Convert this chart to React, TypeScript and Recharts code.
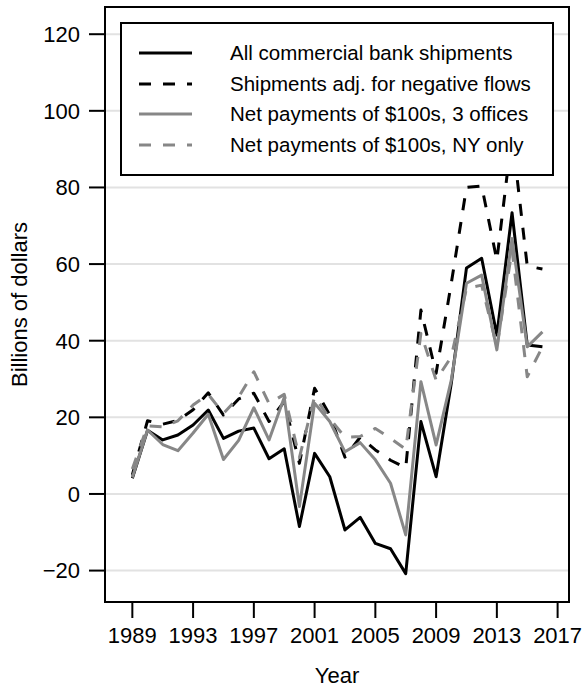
import React from "react";
import {
  CartesianGrid,
  Legend,
  Line,
  LineChart,
  ReferenceArea,
  XAxis,
  YAxis,
} from "recharts";

const YEARS = [
  1989, 1990, 1991, 1992, 1993, 1994, 1995, 1996, 1997, 1998, 1999, 2000, 2001, 2002,
  2003, 2004, 2005, 2006, 2007, 2008, 2009, 2010, 2011, 2012, 2013, 2014, 2015, 2016,
];

const ALL_SHIPMENTS = [
  4.1, 16.6, 14.1, 15.4, 18.0, 21.9, 14.5, 16.4, 17.2, 9.2, 11.8, -8.5, 10.6, 4.5,
  -9.4, -6.1, -12.9, -14.3, -20.8, 18.9, 4.5, 28.9, 59.0, 61.5, 41.5, 73.4, 38.9, 38.4,
];

const ADJ_SHIPMENTS = [
  5.0, 19.1, 18.2, 19.2, 22.0, 26.4, 20.6, 24.8, 26.3, 18.9, 24.1, 8.0, 27.6, 20.6,
  9.6, 14.8, 11.5, 8.8, 6.8, 48.0, 31.5, 55.0, 80.0, 80.4, 61.0, 94.0, 59.5, 58.7,
];

const NET_3_OFFICES = [
  4.3, 16.7, 12.9, 11.3, 15.9, 20.8, 9.0, 14.0, 22.5, 14.1, 25.2, -3.3, 23.7, 18.9,
  11.0, 13.4, 8.9, 2.8, -10.7, 29.3, 12.8, 29.7, 55.0, 57.1, 37.6, 66.7, 38.4, 42.3,
];

const NET_NY_ONLY = [
  6.5, 17.8, 17.5, 19.1, 23.2, 26.0, 21.0, 25.3, 31.9, 23.6, 26.0, 9.5, 25.4, 19.7,
  14.8, 15.0, 17.1, 14.5, 11.7, 41.9, 29.7, 35.8, 53.7, 54.5, 38.4, 63.7, 30.6, 38.4,
];

const X_TICKS = [1989, 1993, 1997, 2001, 2005, 2009, 2013, 2017];
const Y_TICKS = [-20, 0, 20, 40, 60, 80, 100, 120];

const X_DOMAIN: [number, number] = [1987.2, 2017.75];
const Y_DOMAIN: [number, number] = [-28.2, 127.1];

const FONT = "'Liberation Sans', Arial, sans-serif";
const GRAY = "#878787";

const SERIES = [
  { key: "all", name: "All commercial bank shipments", color: "#000", dash: undefined },
  { key: "adj", name: "Shipments adj. for negative flows", color: "#000", dash: "12 12" },
  { key: "net3", name: "Net payments of $100s, 3 offices", color: GRAY, dash: undefined },
  { key: "ny", name: "Net payments of $100s, NY only", color: GRAY, dash: "12 12" },
];

const data = YEARS.map((year, i) => ({
  year,
  all: ALL_SHIPMENTS[i],
  adj: ADJ_SHIPMENTS[i],
  net3: NET_3_OFFICES[i],
  ny: NET_NY_ONLY[i],
}));

function LegendBox() {
  return (
    <div
      style={{
        boxSizing: "border-box",
        width: 434,
        height: 154,
        border: "2px solid #000",
        background: "#fff",
        paddingTop: 14,
        fontFamily: FONT,
        fontSize: 20.5,
        color: "#000",
      }}
    >
      {SERIES.map((s) => (
        <div key={s.key} style={{ display: "flex", alignItems: "center", height: 30.5 }}>
          <svg width={53} height={6} style={{ marginLeft: 17, marginRight: 38, flex: "none" }}>
            <line x1={0} y1={3} x2={53} y2={3} stroke={s.color} strokeWidth={3} strokeDasharray={s.dash} />
          </svg>
          <span style={{ whiteSpace: "nowrap" }}>{s.name}</span>
        </div>
      ))}
    </div>
  );
}

export default function App() {
  return (
    <div style={{ position: "absolute", left: 0, top: 0 }}>
      <LineChart
        width={584}
        height={690}
        data={data}
        margin={{ top: 7, right: 15, bottom: 0, left: 0 }}
        style={{ fontFamily: FONT }}
      >
        <CartesianGrid vertical={false} stroke="#e2e2e2" strokeWidth={2} />
        <XAxis
          dataKey="year"
          type="number"
          domain={X_DOMAIN}
          ticks={X_TICKS}
          allowDataOverflow
          height={88}
          axisLine={false}
          tickSize={16}
          tickMargin={9}
          tickLine={{ stroke: "#000", strokeWidth: 2 }}
          tick={{ fill: "#000", fontSize: 22 }}
          label={{ value: "Year", position: "insideBottom", offset: 7, fill: "#000", fontSize: 22 }}
        />
        <YAxis
          type="number"
          domain={Y_DOMAIN}
          ticks={Y_TICKS}
          allowDataOverflow
          width={105}
          axisLine={false}
          tickSize={16}
          tickMargin={9}
          tickLine={{ stroke: "#000", strokeWidth: 2 }}
          tick={{ fill: "#000", fontSize: 22 }}
          tickFormatter={(v: number) => (v < 0 ? `\u2212${Math.abs(v)}` : `${v}`)}
          label={{
            value: "Billions of dollars",
            angle: -90,
            position: "insideLeft",
            offset: 19,
            fill: "#000",
            fontSize: 22,
            style: { textAnchor: "middle" },
          }}
        />
        {SERIES.map((s) => (
          <Line
            key={s.key}
            type="linear"
            dataKey={s.key}
            name={s.name}
            stroke={s.color}
            strokeWidth={3}
            strokeDasharray={s.dash}
            strokeLinejoin="round"
            dot={false}
            activeDot={false}
            isAnimationActive={false}
          />
        ))}
        <ReferenceArea
          x1={X_DOMAIN[0]}
          x2={X_DOMAIN[1]}
          y1={Y_DOMAIN[0]}
          y2={Y_DOMAIN[1]}
          fill="none"
          fillOpacity={0}
          stroke="#000"
          strokeWidth={2}
          ifOverflow="visible"
        />
        <Legend
          layout="vertical"
          align="center"
          verticalAlign="middle"
          width={434}
          height={154}
          wrapperStyle={{ left: 120, top: 22, width: 434, height: 154 }}
          content={() => <LegendBox />}
        />
      </LineChart>
    </div>
  );
}
